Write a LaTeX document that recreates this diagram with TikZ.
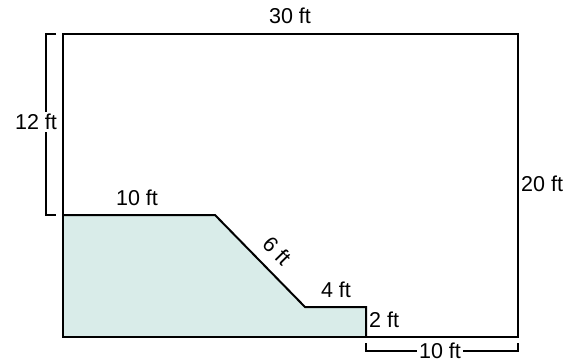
\documentclass[tikz,border=0pt]{standalone}
\usepackage{fontspec}
\setmainfont{Liberation Sans}
\definecolor{pool}{RGB}{217,236,233}
\begin{document}
\begin{tikzpicture}[x=1pt,y=-1pt,
  edge/.style={line width=2pt,line join=miter},
  dim/.style={line width=1.8pt},
  lbl/.style={font=\fontsize{21.5}{24}\selectfont,inner sep=1pt},
  wlbl/.style={lbl,fill=white,inner sep=2pt}]
\useasboundingbox (0,0) rectangle (577,362);
% shaded region
\fill[pool] (63,215) -- (215,215) -- (305,307) -- (366,307) -- (366,337) -- (63,337) -- cycle;
\draw[edge] (63,215) -- (215,215) -- (305,307) -- (366,307) -- (366,337);
% outer rectangle
\coordinate (tl) at (63,34);
\coordinate (br) at (518,337);
\draw[edge] (tl) rectangle (br);
% left dimension bracket
\coordinate (l1) at (56,34);
\coordinate (l2) at (46,34);
\coordinate (l3) at (46,215);
\coordinate (l4) at (56,215);
\draw[dim] (l1) -- (l2) -- (l3) -- (l4);
% bottom dimension bracket
\coordinate (b1) at (366,343);
\coordinate (b2) at (366,351);
\coordinate (b3) at (518,351);
\coordinate (b4) at (518,343);
\draw[dim] (b1) -- (b2) -- (b3) -- (b4);
% labels
\node[lbl] (t30) at (290,16) {30 ft};
\node[wlbl] (t12) at (36,122) {12 ft};
\node[lbl,anchor=west] (t20) at (520,184) {20 ft};
\node[lbl] (t10a) at (137,198) {10 ft};
\node[lbl,rotate=-45.6] (t6) at (277,251) {6 ft};
\node[lbl] (t4) at (336,290) {4 ft};
\node[lbl,anchor=west] (t2) at (368,320) {2 ft};
\node[wlbl] (t10b) at (440,351) {10 ft};
\end{tikzpicture}
\end{document}
